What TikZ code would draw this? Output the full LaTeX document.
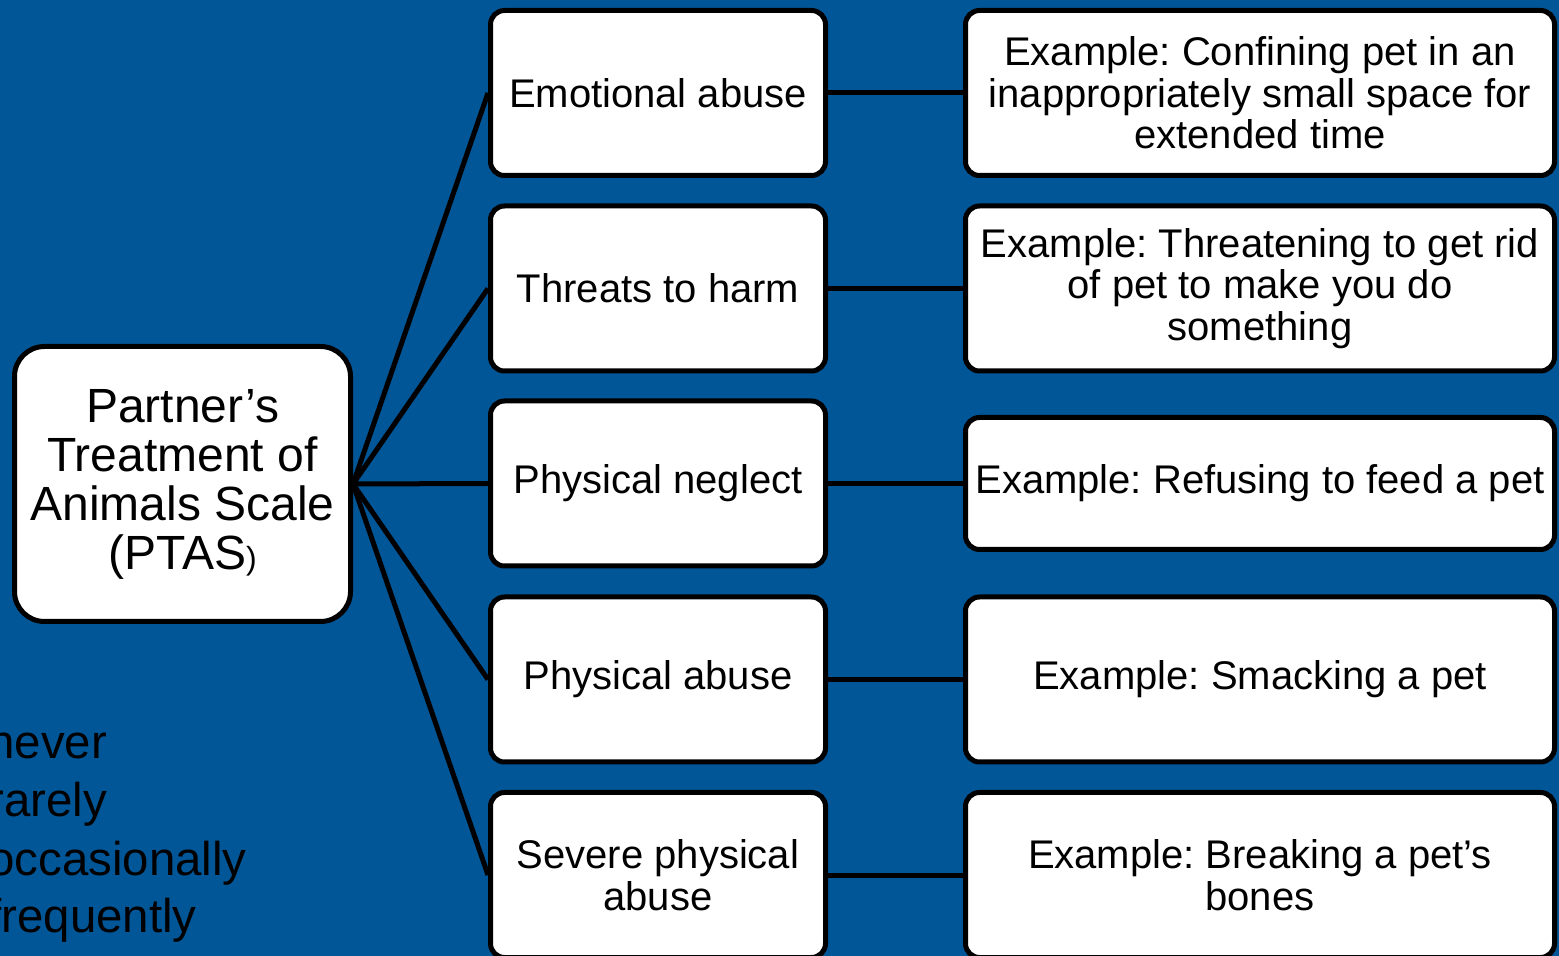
\documentclass[tikz,border=0pt]{standalone}
\usepackage{fontspec}
\setmainfont{Liberation Sans}
\frenchspacing
\definecolor{bg}{RGB}{0,86,150}
\begin{document}
\begin{tikzpicture}[x=0.5pt,y=-0.5pt,
  box/.style={draw=black, line width=2.5pt, fill=white, rounded corners=7pt,
    align=center, inner sep=0pt, font=\fontsize{20}{20.8}\selectfont},
  midbox/.style={box, minimum width=167.5pt, minimum height=82.5pt},
  exbox/.style={box, minimum width=294.5pt, minimum height=82.5pt},
  link/.style={line width=2.5pt, draw=black},
  scaletext/.style={anchor=base west, inner sep=0pt, text=black, font=\fontsize{23.7}{28}\selectfont}]
\useasboundingbox (0,0) rectangle (1559,956);
\fill[bg] (0,0) rectangle (1559,956);
\clip (0,0) rectangle (1559,956);

% left scale text
\node[scaletext] (s1) at (-12,759) {never};
\node[scaletext] (s2) at (-12,817) {rarely};
\node[scaletext] (s3) at (-12,875) {occasionally};
\node[scaletext] (s4) at (-12,932) {frequently};

% root
\node[box, rounded corners=15pt, minimum width=168pt, minimum height=137.5pt,
  font=\fontsize{24}{24.5}\selectfont] (root) at (182.5,484)
  {Partner’s\\Treatment of\\Animals Scale\\(PTAS{\fontsize{16}{16}\selectfont)}};

% middle column
\node[midbox] (m1) at (658,93) {Emotional abuse};
\node[midbox] (m2) at (658,288.5) {Threats to harm};
\node[midbox] (m3) at (658,483.5) {Physical neglect};
\node[midbox] (m4) at (658,679.5) {Physical abuse};
\node[midbox] (m5) at (658,875) {Severe physical\\abuse};

% right column
\node[exbox] (e1) at (1260,93) {Example: Confining pet in an\\inappropriately small space for\\extended time};
\node[exbox] (e2) at (1260,288.5) {Example: Threatening to get rid\\of pet to make you do\\something};
\node[exbox, minimum height=66pt] (e3) at (1260,483.5) {Example: Refusing to feed a pet};
\node[exbox] (e4) at (1260,679.5) {Example: Smacking a pet};
\node[exbox] (e5) at (1260,875) {Example: Breaking a pet’s\\bones};

% connectors
\foreach \i in {1,...,5}{
  \draw[link] (root.east) -- (m\i.west);
  \draw[link] (m\i.east) -- (e\i.west);
}
\end{tikzpicture}
\end{document}
